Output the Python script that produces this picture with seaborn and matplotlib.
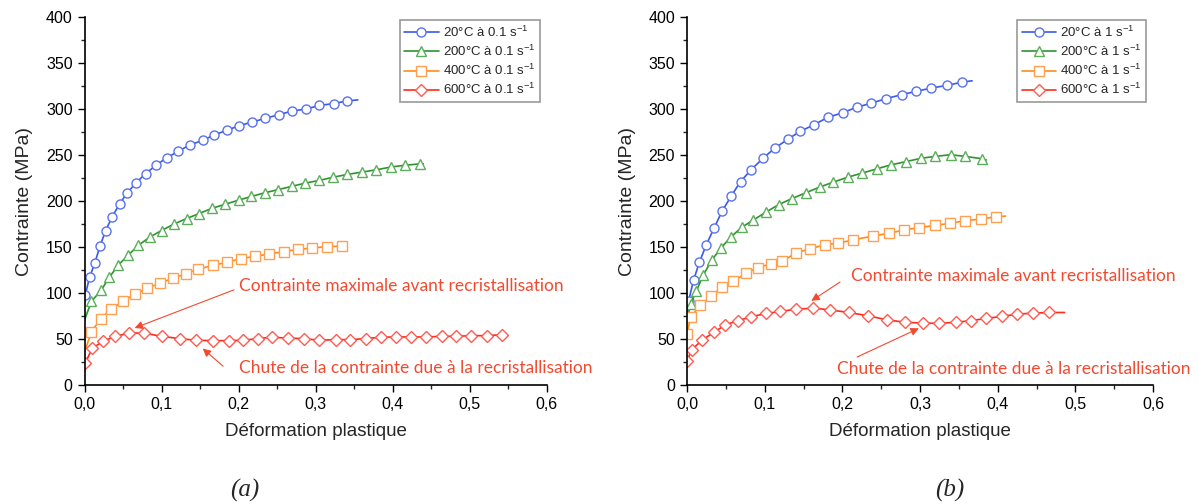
import numpy as np
import pandas as pd
import matplotlib.pyplot as plt
import matplotlib.ticker as mticker
import seaborn as sns

# (a) 0.1 s-1
a_blue_x = [0.0, 0.001, 0.0065, 0.0135, 0.02, 0.0275, 0.036, 0.0455, 0.0555, 0.067, 0.0795, 0.093, 0.1065, 0.1215,
            0.1365, 0.1535, 0.1685, 0.185, 0.201, 0.218, 0.235, 0.2525, 0.27, 0.2875, 0.305, 0.3235, 0.3415, 0.355]
a_blue_y = [90, 98, 117, 133, 151, 168, 183, 197, 209, 220, 230, 239, 247, 254,
            261, 266, 272, 277, 282, 286, 290, 294, 298, 300, 304, 306, 309, 310]
a_green_x = [0.0, 0.001, 0.009, 0.022, 0.032, 0.044, 0.0565, 0.07, 0.085, 0.1, 0.116, 0.1325, 0.149, 0.165, 0.1825,
             0.2, 0.2165, 0.234, 0.2515, 0.269, 0.2865, 0.305, 0.323, 0.3415, 0.36, 0.379, 0.3975, 0.4165, 0.436, 0.44]
a_green_y = [70, 73, 91, 103.5, 117, 130.5, 141, 152, 161, 168, 175, 181, 186.5, 192, 196.5,
             201, 205, 209, 212.5, 216, 219.5, 222.5, 226, 229, 231.5, 234, 237, 239, 240.5, 240.5]
a_orange_x = [0.0, 0.009, 0.021, 0.035, 0.05, 0.065, 0.0815, 0.098, 0.115, 0.1315, 0.1475, 0.1665, 0.185, 0.2035,
              0.2215, 0.24, 0.2585, 0.2775, 0.296, 0.315, 0.335]
a_orange_y = [36, 58, 72, 83, 91, 99, 105, 111, 116, 121, 126, 130, 133.5, 137.5,
              140, 142.5, 145, 147.5, 149, 150.5, 151]
a_red_x = [0.001, 0.01, 0.024, 0.04, 0.0575, 0.0775, 0.1, 0.1235, 0.145, 0.1665, 0.1875, 0.206, 0.225, 0.2435, 0.264,
           0.285, 0.305, 0.326, 0.345, 0.365, 0.385, 0.405, 0.424, 0.444, 0.464, 0.4825, 0.5025, 0.5225, 0.5425, 0.545]
a_red_y = [24, 40, 47.5, 53, 56.5, 56.5, 53, 50.5, 48.7, 48.3, 48.3, 48.7, 50.5, 52, 51,
           50.5, 48.7, 49.4, 49.4, 50.5, 52, 52.3, 52.3, 52.3, 53, 53, 53.7, 53.7, 54.8, 54.8]

# (b) 1 s-1
b_blue_x = [0.0, 0.002, 0.0084, 0.0159, 0.0248, 0.0347, 0.0451, 0.057, 0.0689, 0.0828, 0.0977, 0.113, 0.1299, 0.1458,
            0.1636, 0.181, 0.2003, 0.2182, 0.237, 0.2564, 0.2762, 0.295, 0.3144, 0.3342, 0.3541, 0.367]
b_blue_y = [72, 91.5, 114, 133.5, 152.5, 170.4, 189, 205.6, 221.3, 234.3, 246.5, 257.6, 267.3, 275.9,
            283, 291, 296, 302, 306.4, 311.4, 315.7, 319.3, 322.9, 325.7, 329.3, 330.8]
b_green_x = [0.0, 0.0045, 0.0119, 0.0208, 0.0317, 0.0436, 0.0565, 0.0704, 0.0853, 0.1016, 0.118, 0.1349, 0.1532,
             0.1706, 0.1884, 0.2068, 0.2251, 0.244, 0.2623, 0.2817, 0.301, 0.3193, 0.3392, 0.358, 0.3794, 0.3853]
b_green_y = [70, 88, 102, 119.5, 135.6, 148.9, 161, 171.5, 179.4, 188, 196.2, 202.7, 209.1,
             215.2, 220.6, 226, 230.3, 235, 239.3, 242.9, 246.5, 248.6, 250.4, 248.6, 246.1, 244.7]
b_orange_x = [0.0, 0.0045, 0.0169, 0.0313, 0.0446, 0.0595, 0.0754, 0.0912, 0.1076, 0.1225, 0.1398, 0.1587, 0.177,
              0.1944, 0.2142, 0.24, 0.2604, 0.2787, 0.2985, 0.3193, 0.3382, 0.358, 0.3779, 0.3977, 0.41]
b_orange_y = [55.6, 73.5, 86.8, 96.9, 106.2, 112.6, 121.3, 127.7, 131.7, 134.5, 143.5, 148.2, 152.5,
              154.3, 157.8, 162.2, 165, 168.6, 171.1, 173.6, 175.8, 178.7, 180.4, 183, 183.7]
b_red_x = [0.0, 0.006, 0.0198, 0.0347, 0.0491, 0.0654, 0.0828, 0.1016, 0.12, 0.1408, 0.1627, 0.1835, 0.2083,
           0.2331, 0.2569, 0.2812, 0.3035, 0.3248, 0.3457, 0.3655, 0.3853, 0.4052, 0.4251, 0.446, 0.4663, 0.486]
b_red_y = [26, 38.4, 49.1, 57.4, 65.3, 70, 74.3, 77.8, 80, 82.5, 83.6, 81.8, 78.9,
           75.3, 71, 68.2, 67.4, 67.1, 68.2, 70, 72.5, 74.6, 77.1, 78.2, 78.9, 78.9]

temps = ["20°C", "200°C", "400°C", "600°C"]
colors = ["#3a5ae8", "#2e942e", "#ff8c1a", "#ff2a1a"]
edge_colors = ["#5a72f0", "#5cad5c", "#ffa050", "#ff5a50"]
markers = ["o", "^", "s", "D"]
marker_sizes = [6.5, 7, 6.5, 6]

text_red = "#f24a30"

sns.set_style("white")
plt.rcParams['font.family'] = ['Liberation Sans', 'DejaVu Sans']

fig = plt.figure(figsize=(11.99, 5.04), dpi=100)
ax_a = fig.add_axes([0.0705, 0.236, 0.3853, 0.730])
ax_b = fig.add_axes([0.5730, 0.236, 0.3887, 0.730])

panels = [
    (ax_a, "0.1", [(a_blue_x, a_blue_y), (a_green_x, a_green_y), (a_orange_x, a_orange_y), (a_red_x, a_red_y)],
     [(1, -1), (2, -1), (1, 0), (0, -1)]),
    (ax_b, "1", [(b_blue_x, b_blue_y), (b_green_x, b_green_y), (b_orange_x, b_orange_y), (b_red_x, b_red_y)],
     [(1, -1), (1, -1), (0, -1), (0, -1)]),
]

for ax, rate, series, ranges in panels:
    for i, ((xs, ys), (m0, m1)) in enumerate(zip(series, ranges)):
        df = pd.DataFrame({"x": xs, "y": ys})
        n = len(xs)
        stop = n + m1 if m1 < 0 else n
        sns.lineplot(data=df, x="x", y="y", ax=ax, sort=False, color=colors[i], lw=1.2,
                     marker=markers[i], markersize=marker_sizes[i], markerfacecolor="white",
                     markeredgecolor=edge_colors[i], markeredgewidth=1.0,
                     markevery=list(range(m0, stop)),
                     label=f"{temps[i]} à {rate} s$^{{\\mathregular{{-1}}}}$")

    ax.set_xlim(0, 0.6)
    ax.set_ylim(0, 400)
    ax.xaxis.set_major_locator(mticker.MultipleLocator(0.1))
    ax.xaxis.set_minor_locator(mticker.MultipleLocator(0.05))
    ax.yaxis.set_major_locator(mticker.MultipleLocator(50))
    ax.yaxis.set_minor_locator(mticker.MultipleLocator(25))
    ax.xaxis.set_major_formatter(mticker.FuncFormatter(lambda v, p: f"{v:.1f}".replace(".", ",")))
    ax.tick_params(which="major", direction="out", length=5, width=1, labelsize=11.5, colors="black",
                   bottom=True, left=True)
    ax.tick_params(which="minor", direction="out", length=3, width=1, bottom=True, left=True)
    for s in ["top", "right"]:
        ax.spines[s].set_visible(False)
    for s in ["left", "bottom"]:
        ax.spines[s].set_color("black")
        ax.spines[s].set_linewidth(1.2)
    ax.set_xlabel("Déformation plastique", fontsize=13.5, labelpad=8)
    ax.set_ylabel("Contrainte (MPa)", fontsize=14, labelpad=9)
    leg = ax.legend(loc="upper right", bbox_to_anchor=(1.0, 1.01), fontsize=9.5, frameon=True, fancybox=False,
                    edgecolor="#808080", handlelength=2.6, borderpad=0.35, labelspacing=0.3, handletextpad=0.3)
    leg.get_frame().set_linewidth(1.2)

ann_font = dict(family=["Lato", "DejaVu Sans"], fontsize=12.5, color=text_red, va="center", ha="left")
arrow = dict(arrowstyle="-|>", color=text_red, lw=0.8, mutation_scale=12, shrinkA=0, shrinkB=0)

ax_a.annotate("", xy=(0.065, 62), xytext=(0.194, 103.5), arrowprops=arrow)
ax_a.text(0.201, 108, "Contrainte maximale avant recristallisation", **ann_font)
ax_a.annotate("", xy=(0.1535, 39.7), xytext=(0.18, 20.5), arrowprops=arrow)
ax_a.text(0.201, 19, "Chute de la contrainte due à la recristallisation", **ann_font)

ax_b.annotate("", xy=(0.16, 91.5), xytext=(0.197, 112), arrowprops=arrow)
ax_b.text(0.2117, 118.4, "Contrainte maximale avant recristallisation", **ann_font)
ax_b.annotate("", xy=(0.2985, 61.7), xytext=(0.219, 30.5), arrowprops=arrow)
ax_b.text(0.193, 17.9, "Chute de la contrainte due à la recristallisation", **ann_font)

fig.text(0.204, 0.026, "(a)", family="Liberation Serif", style="italic", fontsize=18, ha="center", va="center")
fig.text(0.792, 0.026, "(b)", family="Liberation Serif", style="italic", fontsize=18, ha="center", va="center")

fig.savefig("out.png", dpi=100)
